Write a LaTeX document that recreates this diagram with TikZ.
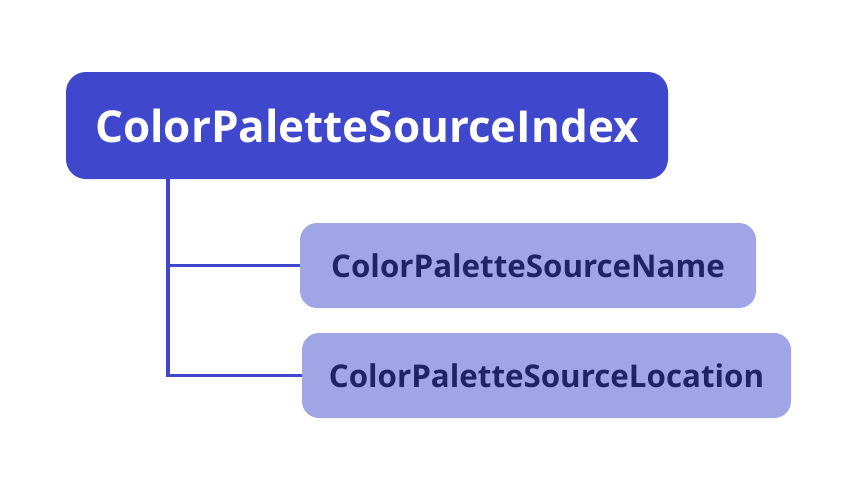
\documentclass[tikz,border=0pt]{standalone}
\usepackage{fontspec}
\setmainfont{Open Sans}
\definecolor{mainblue}{HTML}{3F48CC}
\definecolor{lightblue}{HTML}{9FA5E5}
\definecolor{darknavy}{HTML}{1E2466}
\begin{document}
\begin{tikzpicture}[x=1pt,y=-1pt,
  rootbox/.style={fill=mainblue,rounded corners=20pt,minimum width=602pt,minimum height=107pt,inner sep=0pt,text=white,font=\fontsize{44}{48}\selectfont\bfseries},
  childbox/.style={fill=lightblue,rounded corners=17pt,minimum height=85pt,inner sep=0pt,text=darknavy,font=\fontsize{31.3}{35}\selectfont\bfseries},
  conn/.style={draw=mainblue,line width=3.8pt}]
\useasboundingbox (0,0) rectangle (866,488);
\node[rootbox] (root) at (367,125.5) {ColorPaletteSourceIndex};
\node[childbox,minimum width=456pt] (c1) at (528,265.5) {ColorPaletteSourceName};
\node[childbox,minimum width=489pt] (c2) at (546.5,375.5) {ColorPaletteSourceLocation};
\coordinate (trunk) at (168,179);
\draw[conn] (trunk) |- (c2.west);
\draw[conn] (trunk |- c1.west) -- (c1.west);
\end{tikzpicture}
\end{document}
